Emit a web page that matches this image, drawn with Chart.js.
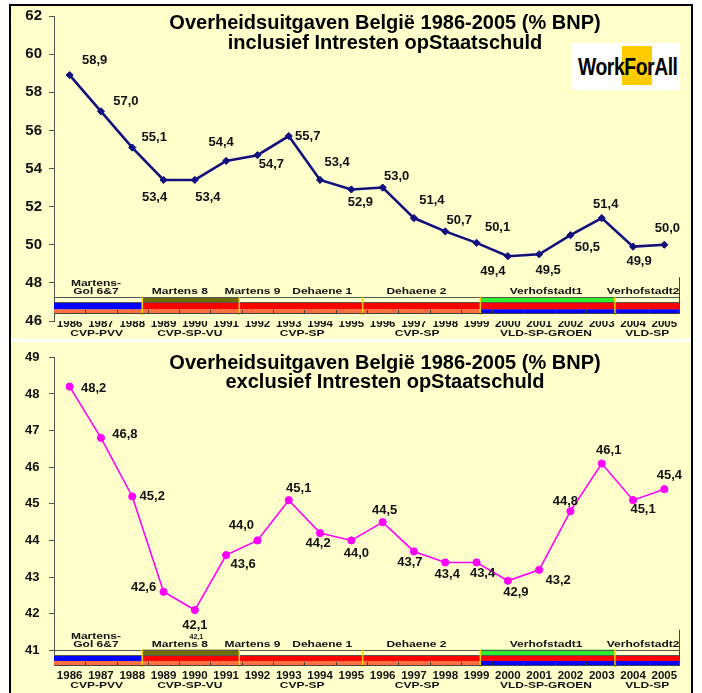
<!DOCTYPE html>
<html>
<head>
<meta charset="utf-8">
<script src="https://cdn.jsdelivr.net/npm/chart.js@4"></script>
<style>
  html,body{margin:0;padding:0;background:#fff;}
  body{width:702px;height:693px;position:relative;overflow:hidden;font-family:"Liberation Sans",Arial,sans-serif;}
  #frame{position:absolute;left:9px;top:4px;width:684px;height:700px;box-sizing:border-box;border:2px solid #000;background:#FFFFCC;}
  #strip{position:absolute;left:11px;top:339px;width:680px;height:3px;background:#fff;}
  canvas{position:absolute;left:0;}
  .title{position:absolute;left:135px;width:500px;text-align:center;font-weight:bold;font-size:20px;color:#000;white-space:nowrap;}
  #logo{position:absolute;left:572px;top:43px;width:108px;height:47px;background:#fff;}
  #logoY{position:absolute;left:50px;top:3px;width:30px;height:39px;background:#FFCC00;}
  #logoT{position:absolute;left:6px;top:13px;font:bold 23px "Liberation Sans",Arial,sans-serif;line-height:22px;color:#000;letter-spacing:-0.5px;white-space:nowrap;transform:scaleX(0.84);transform-origin:0 50%;}
</style>
</head>
<body>
<div id="frame"></div>
<div id="strip"></div>
<canvas id="c1" width="702" height="340" style="top:0"></canvas>
<canvas id="c2" width="702" height="353" style="top:340px"></canvas>
<div class="title" id="t1" style="top:12px;line-height:20px;"></div>
<div class="title" id="t2" style="top:353px;line-height:19px;"></div>
<div id="logo"><div id="logoY"></div><div id="logoT">WorkForAll</div></div>
<script>
// ---------- data ----------
const years = ['1986','1987','1988','1989','1990','1991','1992','1993','1994','1995',
               '1996','1997','1998','1999','2000','2001','2002','2003','2004','2005'];
const inclusief = [58.9,57.0,55.1,53.4,53.4,54.4,54.7,55.7,53.4,52.9,53.0,51.4,50.7,50.1,49.4,49.5,50.5,51.4,49.9,50.0];
const exclusief = [48.2,46.8,45.2,42.6,42.1,43.6,44.0,45.1,44.2,44.0,44.5,43.7,43.4,43.4,42.9,43.2,44.8,46.1,45.1,45.4];
const incTicks = [46,48,50,52,54,56,58,60,62];
const excTicks = [41,42,43,44,45,46,47,48,49];
const governments = ['Martens-\nGol 6&7','Martens 8','Martens 9','Dehaene 1','Dehaene 2','Verhofstadt1','Verhofstadt2'];
const coalitions = ['CVP-PVV','CVP-SP-VU','CVP-SP','CVP-SP','VLD-SP-GROEN','VLD-SP'];
const titleMain = 'Overheidsuitgaven België 1986-2005 (% BNP)';
const titleInc = 'inclusief Intresten opStaatschuld';
const titleExc = 'exclusief Intresten opStaatschuld';

// ---------- layout / style (not data) ----------
const govPos = [0.84, 3.52, 5.84, 8.07, 11.08, 15.22, 18.32];
const coalPos = [0.86, 3.84, 7.43, 11.1, 15.22, 18.45];
const govBreaks = [2.32, 5.42, 9.36, 13.12, 17.42];
const C = {blue:'#0000FF', orange:'#FF7040', red:'#FF0000', olive:'#6E6E00', green:'#2EEE2E'};
const segments = [
  {from:-0.5, to:2.32, top:null,    mid:C.blue, bot:C.orange},
  {from:2.32, to:5.42, top:C.olive, mid:C.red,  bot:C.orange},
  {from:5.42, to:13.12,top:null,    mid:C.red,  bot:C.orange},
  {from:13.12,to:17.42,top:C.green, mid:C.red,  bot:C.blue},
  {from:17.42,to:19.5, top:null,    mid:C.red,  bot:C.blue}
];
const incOffsets = [[25,-15],[25,-10],[22,-10],[-9,17],[13,17],[-5,-18],[14,9],[19,0],[17,-18],[9,13],
                    [14,-11],[18,-18],[14,-11],[21,-15],[-15,15],[9,16],[17,12],[4,-14],[6,15],[3,-16]];
const excOffsets = [[24,2],[24,-3],[20,0],[-20,-4],[0,15],[17,9],[-16,-15],[10,-12],[-2,10],[5,13],
                    [2,-12],[-4,11],[2,12],[6,11],[8,12],[19,11],[-5,-10],[7,-13],[10,9],[5,-14]];

document.getElementById('t1').innerHTML = titleMain + '<br>' + titleInc;
document.getElementById('t2').innerHTML = titleMain + '<br>' + titleExc;

const FONT = '"Liberation Sans", Arial, sans-serif';
const fmt = v => v.toFixed(1).replace('.', ',');

function squishText(ctx, text, x, y, sy) {
  ctx.save();
  ctx.translate(x, y);
  ctx.scale(1, sy);
  ctx.fillText(text, 0, 0);
  ctx.restore();
}

const bandPlugin = {
  id: 'govBands',
  beforeDatasetsDraw(chart, args, opts) {
    const {ctx, chartArea: a, scales: {x, y}} = chart;
    const x0 = x.getPixelForValue(0);
    const step = x.getPixelForValue(1) - x0;
    const px = i => x0 + i * step;
    const L = opts.levels.map(v => y.getPixelForValue(v));
    ctx.save();
    segments.forEach(s => {
      const xa = px(s.from), xb = px(s.to);
      ctx.fillStyle = s.bot; ctx.fillRect(xa, L[1], xb - xa, L[0] - L[1]);
      ctx.fillStyle = s.mid; ctx.fillRect(xa, L[2], xb - xa, L[1] - L[2]);
      if (s.top) { ctx.fillStyle = s.top; ctx.fillRect(xa, L[3], xb - xa, L[2] - L[3]); }
    });
    ctx.strokeStyle = '#555'; ctx.lineWidth = 1;
    [L[3], L[2]].forEach(yy => {
      ctx.beginPath(); ctx.moveTo(a.left, Math.round(yy) + 0.5); ctx.lineTo(a.right, Math.round(yy) + 0.5); ctx.stroke();
    });
    // yellow government separators
    ctx.strokeStyle = '#FFD200'; ctx.lineWidth = 1.5;
    govBreaks.forEach(b => {
      ctx.beginPath(); ctx.moveTo(px(b), L[3]); ctx.lineTo(px(b), L[0] + 2); ctx.stroke();
    });
    // category axis line + between-category tick marks
    ctx.strokeStyle = '#444'; ctx.lineWidth = 1;
    ctx.beginPath(); ctx.moveTo(a.left, Math.round(L[0]) + 0.5); ctx.lineTo(a.right, Math.round(L[0]) + 0.5); ctx.stroke();
    for (let i = 0; i < years.length - 1; i++) {
      const xx = Math.round(px(i + 0.5)) + 0.5;
      ctx.beginPath(); ctx.moveTo(xx, L[0] - 3); ctx.lineTo(xx, L[0]); ctx.stroke();
    }
    ctx.beginPath(); ctx.moveTo(Math.round(a.right) - 0.5, L[3] - 20); ctx.lineTo(Math.round(a.right) - 0.5, L[0]); ctx.stroke();
    // government names
    ctx.fillStyle = '#111'; ctx.textAlign = 'center'; ctx.textBaseline = 'middle';
    ctx.font = 'bold 12px ' + FONT;
    governments.forEach((g, k) => {
      const lines = g.split('\n');
      lines.forEach((ln, j) => {
        squishText(ctx, ln, px(govPos[k]), L[3] - 5.5 - (lines.length - 1 - j) * 8, 0.75);
      });
    });
    // coalition names
    coalitions.forEach((c, k) => squishText(ctx, c, px(coalPos[k]), L[0] + 20.5, 0.75));
    ctx.restore();
  }
};

const labelPlugin = {
  id: 'pointLabels',
  afterDatasetsDraw(chart, args, opts) {
    const {ctx} = chart;
    const meta = chart.getDatasetMeta(0);
    const vals = chart.data.datasets[0].data;
    ctx.save();
    ctx.fillStyle = '#111'; ctx.textAlign = 'center'; ctx.textBaseline = 'middle';
    ctx.font = 'bold 13px ' + FONT;
    meta.data.forEach((p, i) => {
      const o = opts.offsets[i];
      ctx.fillText(fmt(vals[i]), p.x + o[0], p.y + o[1]);
    });
    if (opts.extra) {
      ctx.font = 'bold 7px ' + FONT;
      opts.extra.forEach(e => {
        const p = meta.data[e.index];
        ctx.fillText(fmt(vals[e.index]), p.x + e.dx, p.y + e.dy);
      });
    }
    ctx.restore();
  }
};

function makeChart(id, data, color, pointStyle, lineW, yMin, yMax, ticks, yFont, yPad, xPad, xH, padTop, levels, offsets, extra) {
  return new Chart(document.getElementById(id), {
    type: 'line',
    data: {
      labels: years,
      datasets: [{
        data: data,
        borderColor: color,
        backgroundColor: color,
        pointBackgroundColor: color,
        pointBorderColor: color,
        borderWidth: lineW,
        pointStyle: pointStyle,
        pointRadius: 3.6,
        pointBorderWidth: 1,
        tension: 0,
        fill: false
      }]
    },
    options: {
      responsive: false,
      animation: false,
      devicePixelRatio: 1,
      layout: {padding: {left: 14, right: 22, top: padTop, bottom: 0}},
      plugins: {
        legend: {display: false},
        tooltip: {enabled: false},
        title: {display: false},
        govBands: {levels: levels},
        pointLabels: {offsets: offsets, extra: extra}
      },
      scales: {
        x: {
          type: 'category',
          offset: true,
          grid: {display: false, drawTicks: false, offset: true},
          border: {display: false},
          ticks: {color: '#111', font: {family: FONT, size: 11.5, weight: 'bold', lineHeight: 1.2}, padding: xPad,
                  maxRotation: 0, minRotation: 0, autoSkip: false},
          afterFit: s => { s.height = xH; }
        },
        y: {
          min: yMin, max: yMax,
          afterBuildTicks: s => { s.ticks = ticks.map(v => ({value: v})); },
          ticks: {color: '#111', font: {family: FONT, size: yFont, weight: 'bold'}, padding: yPad,
                  callback: v => String(v)},
          grid: {drawOnChartArea: false, drawTicks: true, tickLength: 5, color: '#555'},
          border: {display: true, color: '#555', width: 1},
          afterFit: s => { s.width = 40; }
        }
      }
    },
    plugins: [bandPlugin, labelPlugin]
  });
}

makeChart('c1', inclusief, '#10107E', 'rectRot', 2.6, 46, 62, incTicks, 15, 7, -4.5, 19, 13,
          [46.42, 46.62, 46.99, 47.25], incOffsets, null);
makeChart('c2', exclusief, '#FF00FF', 'circle', 1.6, 40.6, 49, excTicks, 13, 9.5, 4, 28, 14,
          [40.6, 40.71, 40.87, 41.02], excOffsets, [{index: 4, dx: 1.5, dy: 27}]);
</script>
</body>
</html>
